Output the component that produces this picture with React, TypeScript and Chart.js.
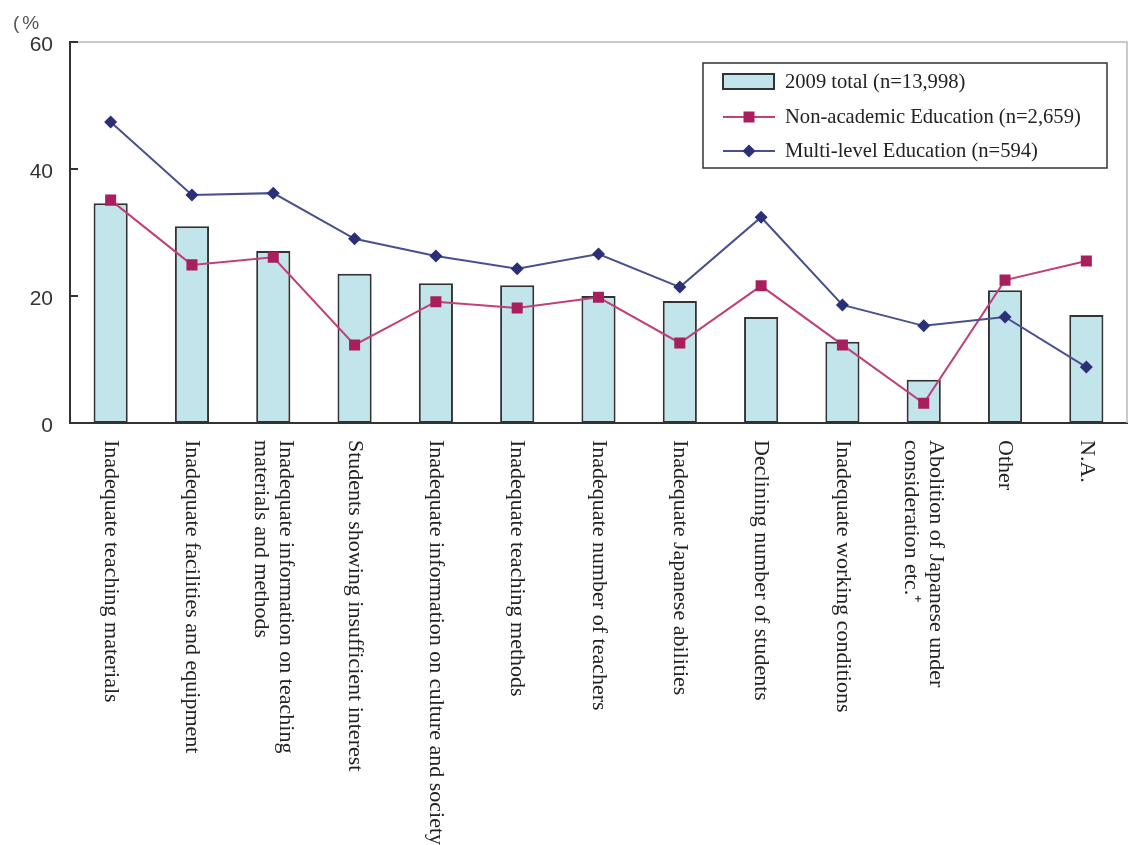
import { useEffect, useRef } from "react";
import { Chart, registerables } from "chart.js";
Chart.register(...registerables);

const categories: string[][] = [
  ["Inadequate teaching materials"],
  ["Inadequate facilities and equipment"],
  ["Inadequate information on teaching", "materials and methods"],
  ["Students showing insufficient interest"],
  ["Inadequate information on culture and society"],
  ["Inadequate teaching methods"],
  ["Inadequate number of teachers"],
  ["Inadequate Japanese abilities"],
  ["Declining number of students"],
  ["Inadequate working conditions"],
  ["Abolition of Japanese under", "consideration etc.\u207A"],
  ["Other"],
  ["N.A."],
];
const total2009 = [34.6, 31.0, 27.1, 23.5, 22.0, 21.7, 20.0, 19.2, 16.7, 12.8, 6.8, 20.9, 17.0];
const nonAcademic = [35.1, 24.9, 26.1, 12.3, 19.1, 18.1, 19.8, 12.6, 21.6, 12.3, 3.1, 22.5, 25.5];
const multiLevel = [47.4, 35.9, 36.2, 29.0, 26.3, 24.3, 26.6, 21.4, 32.4, 18.6, 15.3, 16.7, 8.8];
const yTicks = [0, 20, 40, 60];
const seriesLabels = [
  "2009 total (n=13,998)",
  "Non-academic Education (n=2,659)",
  "Multi-level Education (n=594)",
];
const unitLabel = "(%";

const BAR_FILL = "#c1e5ea";
const BAR_EDGE = "#333333";
const PINK_LINE = "#c0407a";
const PINK_MARK = "#a81f5c";
const BLUE_LINE = "#48508e";
const BLUE_MARK = "#2a2f78";
const SERIF = "'Liberation Serif', 'Times New Roman', serif";
const SANS = "'Liberation Sans', Arial, sans-serif";

const decorPlugin = {
  id: "decor",
  beforeDatasetsDraw(chart: any) {
    const { ctx, chartArea } = chart;
    const { left, right, top, bottom } = chartArea;
    ctx.save();
    ctx.strokeStyle = "#b8b8b8";
    ctx.lineWidth = 1.5;
    ctx.beginPath();
    ctx.moveTo(left, top);
    ctx.lineTo(right, top);
    ctx.lineTo(right, bottom);
    ctx.stroke();
    const y = chart.scales.y;
    ctx.strokeStyle = "#333";
    ctx.lineWidth = 2;
    yTicks.forEach((v) => {
      if (v === 0) return;
      const py = y.getPixelForValue(v);
      ctx.beginPath();
      ctx.moveTo(left, py);
      ctx.lineTo(left + 8, py);
      ctx.stroke();
    });
    ctx.restore();
  },
  afterDraw(chart: any) {
    const { ctx, chartArea } = chart;
    const xs = chart.scales.x;
    ctx.save();
    ctx.fillStyle = "#555";
    ctx.font = `19px ${SANS}`;
    ctx.textAlign = "left";
    ctx.textBaseline = "middle";
    try {
      (ctx as any).letterSpacing = "3px";
    } catch (e) {}
    ctx.fillText(unitLabel, 13, 24);
    try {
      (ctx as any).letterSpacing = "0px";
    } catch (e) {}

    ctx.fillStyle = "#222";
    ctx.font = `22px ${SERIF}`;
    categories.forEach((lines, i) => {
      const px = xs.getPixelForTick(i);
      ctx.save();
      ctx.translate(px, chartArea.bottom + 17);
      ctx.rotate(Math.PI / 2);
      ctx.textAlign = "left";
      ctx.textBaseline = "middle";
      const n = lines.length;
      lines.forEach((t, j) => {
        const off = (j - (n - 1) / 2) * 25;
        ctx.fillText(t, 0, off);
      });
      ctx.restore();
    });

    const lx = 703, ly = 63, lw = 404, lh = 105;
    ctx.fillStyle = "#fff";
    ctx.fillRect(lx, ly, lw, lh);
    ctx.strokeStyle = "#333";
    ctx.lineWidth = 1.5;
    ctx.strokeRect(lx, ly, lw, lh);
    const rows = [82, 117, 151];
    ctx.fillStyle = BAR_FILL;
    ctx.fillRect(723, 74, 51, 15);
    ctx.strokeStyle = BAR_EDGE;
    ctx.lineWidth = 2;
    ctx.strokeRect(723, 74, 51, 15);
    ctx.strokeStyle = PINK_LINE;
    ctx.lineWidth = 2;
    ctx.beginPath();
    ctx.moveTo(723, rows[1]);
    ctx.lineTo(775, rows[1]);
    ctx.stroke();
    ctx.fillStyle = PINK_MARK;
    ctx.fillRect(749 - 5.5, rows[1] - 5.5, 11, 11);
    ctx.strokeStyle = BLUE_LINE;
    ctx.beginPath();
    ctx.moveTo(723, rows[2]);
    ctx.lineTo(775, rows[2]);
    ctx.stroke();
    ctx.fillStyle = BLUE_MARK;
    ctx.beginPath();
    ctx.moveTo(749 - 6.5, rows[2]);
    ctx.lineTo(749, rows[2] - 6.5);
    ctx.lineTo(749 + 6.5, rows[2]);
    ctx.lineTo(749, rows[2] + 6.5);
    ctx.closePath();
    ctx.fill();
    ctx.fillStyle = "#222";
    ctx.font = `20.6px ${SERIF}`;
    ctx.textAlign = "left";
    ctx.textBaseline = "middle";
    seriesLabels.forEach((t, i) => ctx.fillText(t, 785, rows[i] + 1));
    ctx.restore();
  },
};

export default function App() {
  const ref = useRef<HTMLCanvasElement | null>(null);
  useEffect(() => {
    if (!ref.current) return;
    const chart = new Chart(ref.current, {
      type: "bar",
      data: {
        labels: categories.map((c) => c.join(" ")),
        datasets: [
          {
            type: "bar",
            label: seriesLabels[0],
            data: total2009,
            backgroundColor: BAR_FILL,
            borderColor: BAR_EDGE,
            borderWidth: 2,
            borderSkipped: false,
            categoryPercentage: 1,
            barPercentage: 0.42,
            order: 3,
          } as any,
          {
            type: "line",
            label: seriesLabels[1],
            data: nonAcademic,
            borderColor: PINK_LINE,
            borderWidth: 2,
            pointStyle: "rect",
            pointRadius: 7.8,
            pointBackgroundColor: PINK_MARK,
            pointBorderColor: PINK_MARK,
            pointBorderWidth: 0,
            tension: 0,
            order: 2,
          } as any,
          {
            type: "line",
            label: seriesLabels[2],
            data: multiLevel,
            borderColor: BLUE_LINE,
            borderWidth: 2,
            pointStyle: "rectRot",
            pointRadius: 6.5,
            pointBackgroundColor: BLUE_MARK,
            pointBorderColor: BLUE_MARK,
            pointBorderWidth: 0,
            tension: 0,
            order: 1,
          } as any,
        ],
      },
      options: {
        responsive: false,
        animation: false,
        layout: { autoPadding: false, padding: { left: 0, top: 42, right: 1, bottom: 422 } },
        plugins: {
          legend: { display: false },
          tooltip: { enabled: false },
          title: { display: false },
        },
        scales: {
          x: {
            offset: true,
            grid: { display: false, drawTicks: false },
            border: { display: true, color: "#333", width: 2 },
            ticks: { display: false },
            afterFit: (s: any) => {
              s.height = 0;
            },
          },
          y: {
            min: 0,
            max: 60,
            grid: { display: false, drawTicks: false },
            border: { display: true, color: "#333", width: 2 },
            afterBuildTicks: (s: any) => {
              s.ticks = yTicks.map((v) => ({ value: v }));
            },
            ticks: {
              color: "#333",
              padding: 17,
              labelOffset: 3,
              font: { family: SANS, size: 21 },
            },
            afterFit: (s: any) => {
              s.width = 70;
            },
          },
        },
      } as any,
      plugins: [decorPlugin],
    });
    return () => chart.destroy();
  }, []);
  return (
    <div style={{ position: "absolute", left: 0, top: 0, width: 1128, height: 845, background: "#fff" }}>
      <canvas ref={ref} width={1128} height={845} style={{ width: 1128, height: 845, display: "block" }} />
    </div>
  );
}
